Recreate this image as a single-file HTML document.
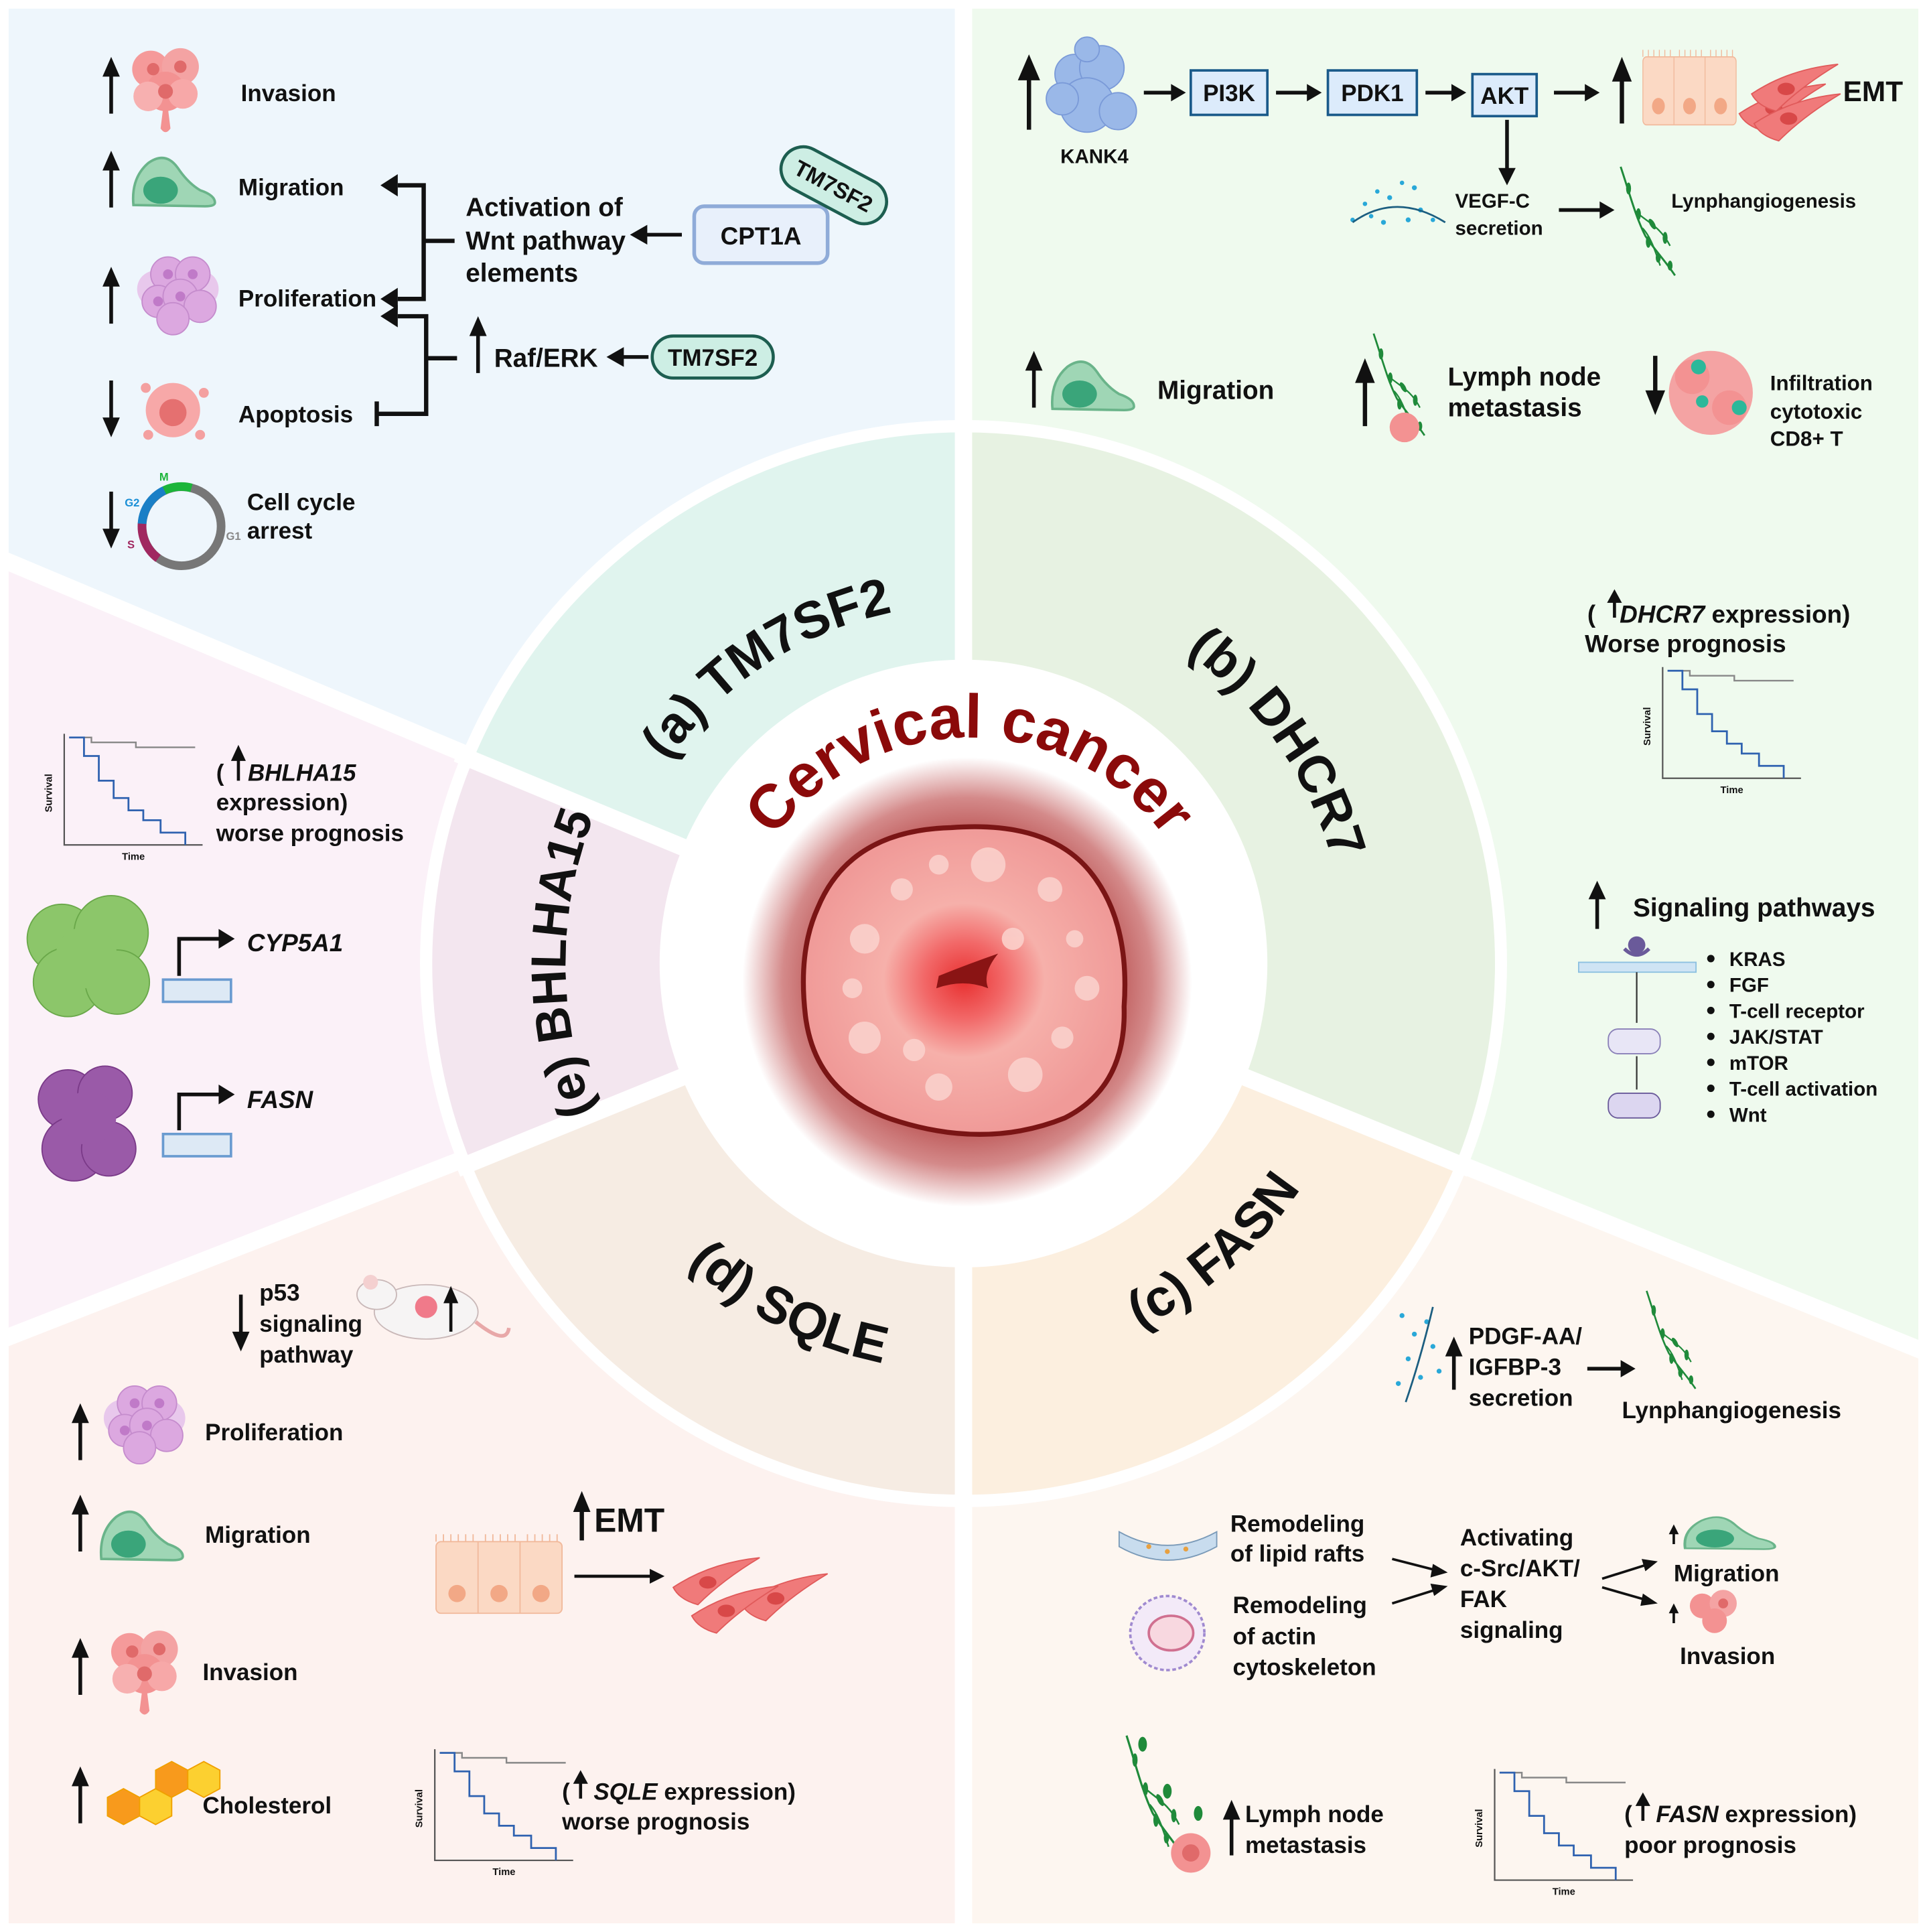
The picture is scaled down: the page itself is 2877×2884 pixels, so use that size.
<!DOCTYPE html>
<html><head><meta charset="utf-8"><style>
html,body{margin:0;padding:0;background:#fff}
svg{display:block}
text{font-family:"Liberation Sans",Arial,sans-serif;font-weight:bold;fill:#111}
</style></head><body>
<svg width="2877" height="2884" viewBox="0 0 1560 1564" preserveAspectRatio="none" xmlns="http://www.w3.org/2000/svg">
<defs>
<g id="up"><line x1="0" y1="0" x2="0" y2="-34" stroke="#111" stroke-width="3"/><polygon points="-7,-30 7,-30 0,-46" fill="#111"/></g>
<g id="dn"><line x1="0" y1="0" x2="0" y2="34" stroke="#111" stroke-width="3"/><polygon points="-7,30 7,30 0,46" fill="#111"/></g>
<g id="mig"><path d="M2,40 Q0,18 14,6 Q28,-4 38,10 Q46,22 56,28 Q68,32 68,38 Q68,41 60,41 Z" fill="#9fd6b5" stroke="#6ab48a" stroke-width="2"/><ellipse cx="24" cy="28" rx="14" ry="11" fill="#3aa57a"/></g>
<g id="pinkc"><circle cx="-12" cy="-8" r="15" fill="#f59a9a"/><circle cx="12" cy="-10" r="15" fill="#f4a3a3"/><circle cx="0" cy="10" r="16" fill="#f39292"/><circle cx="-14" cy="14" r="12" fill="#f7b0b0"/><circle cx="14" cy="12" r="12" fill="#f7a8a8"/><circle cx="-10" cy="-8" r="5" fill="#e06a6a"/><circle cx="12" cy="-10" r="5" fill="#e06a6a"/><circle cx="0" cy="10" r="6" fill="#e06a6a"/><path d="M-2,24 L2,24 L4,40 Q0,46 -4,40 Z" fill="#f39292"/></g>
<g id="purc"><circle cx="-18" cy="-4" r="15" fill="#e8c8ec"/><circle cx="18" cy="-4" r="15" fill="#e8c8ec"/><circle cx="-8" cy="-16" r="14" fill="#dca8e0" stroke="#c58ccd"/><circle cx="12" cy="-16" r="14" fill="#dca8e0" stroke="#c58ccd"/><circle cx="-16" cy="6" r="13" fill="#dca8e0" stroke="#c58ccd"/><circle cx="2" cy="2" r="14" fill="#dca8e0" stroke="#c58ccd"/><circle cx="18" cy="10" r="13" fill="#dca8e0" stroke="#c58ccd"/><circle cx="-4" cy="20" r="13" fill="#dca8e0" stroke="#c58ccd"/><circle cx="2" cy="2" r="4" fill="#c07ac8"/><circle cx="-8" cy="-16" r="4" fill="#c07ac8"/><circle cx="12" cy="-16" r="4" fill="#c07ac8"/><circle cx="-16" cy="6" r="4" fill="#c07ac8"/></g>
<g id="km"><path d="M0,0 V90 H112" fill="none" stroke="#555" stroke-width="1.2"/><path d="M4,3 H22 V7 H58 V11 H106" fill="none" stroke="#888" stroke-width="1.3"/><path d="M4,3 H16 V18 H28 V38 H40 V52 H52 V62 H64 V70 H78 V80 H98 V90" fill="none" stroke="#2f62b0" stroke-width="1.5"/><text x="56" y="102" font-size="8" font-weight="normal" text-anchor="middle" fill="#333">Time</text><text transform="translate(-10,48) rotate(-90)" font-size="8" font-weight="normal" text-anchor="middle" fill="#333">Survival</text></g>
<g id="lym"><path d="M0,0 C10,30 15,50 25,70 C35,85 45,95 55,110" fill="none" stroke="#1f8a3a" stroke-width="2"/><path d="M15,45 C25,55 40,60 50,80" fill="none" stroke="#1f8a3a" stroke-width="1.6"/><path d="M22,62 C30,70 35,85 40,100" fill="none" stroke="#1f8a3a" stroke-width="1.6"/><g fill="#1f8a3a"><ellipse cx="8" cy="22" rx="2.5" ry="6"/><ellipse cx="18" cy="48" rx="2.5" ry="6"/><ellipse cx="32" cy="58" rx="2.5" ry="6" transform="rotate(-30 32 58)"/><ellipse cx="45" cy="72" rx="2.5" ry="6"/><ellipse cx="28" cy="76" rx="2.5" ry="6"/><ellipse cx="38" cy="92" rx="2.5" ry="5"/><ellipse cx="50" cy="100" rx="2.5" ry="5"/></g></g>
<g id="epi"><rect x="0" y="0" width="102" height="58" rx="4" fill="#fbd9c4" stroke="#f1b99b"/><line x1="34" y1="0" x2="34" y2="58" stroke="#f1b99b"/><line x1="68" y1="0" x2="68" y2="58" stroke="#f1b99b"/><circle cx="17" cy="42" r="7" fill="#f2a886"/><circle cx="51" cy="42" r="7" fill="#f2a886"/><circle cx="85" cy="42" r="7" fill="#f2a886"/><path d="M0,0 V-6 M6,0 V-6 M12,0 V-6 M18,0 V-6 M24,0 V-6 M30,0 V-6 M40,0 V-6 M46,0 V-6 M52,0 V-6 M58,0 V-6 M64,0 V-6 M74,0 V-6 M80,0 V-6 M86,0 V-6 M92,0 V-6 M98,0 V-6" stroke="#f1b99b"/></g>
<g id="spin"><path d="M0,20 Q30,0 70,-4 Q40,14 20,34 Q5,30 0,20 Z" fill="#f07a7a" stroke="#e05a5a"/><ellipse cx="28" cy="16" rx="7" ry="5" fill="#d84848"/></g>
<radialGradient id="halo" cx="50%" cy="50%" r="50%"><stop offset="0" stop-color="#b24848"/><stop offset="0.65" stop-color="#bd5858"/><stop offset="0.82" stop-color="#d48a8a"/><stop offset="1" stop-color="#ffffff"/></radialGradient>
<radialGradient id="tum" cx="50%" cy="50%" r="50%"><stop offset="0" stop-color="#e83030"/><stop offset="0.25" stop-color="#f26868"/><stop offset="0.5" stop-color="#f6b0aa"/><stop offset="1" stop-color="#f09a98"/></radialGradient>
</defs>

<rect width="1560" height="1564" fill="#fff"/>
<polygon points="780,780 780,0 0,0 0,455" fill="#eef6fc"/>
<polygon points="780,780 780,0 1560,0 1560,1095" fill="#effaee"/>
<polygon points="780,780 1560,1095 1560,1564 780,1564" fill="#fdf6f0"/>
<polygon points="780,780 780,1564 0,1564 0,1085" fill="#fdf2ef"/>
<polygon points="780,780 0,1085 0,455" fill="#fbf1f8"/>
<g stroke="#fff" stroke-width="14"><line x1="780" y1="780" x2="780" y2="0"/><line x1="780" y1="780" x2="0" y2="452"/><line x1="780" y1="780" x2="0" y2="1085"/><line x1="780" y1="780" x2="780" y2="1564"/><line x1="780" y1="780" x2="1560" y2="1095"/></g>
<rect x="3" y="3" width="1554" height="1558" fill="none" stroke="#fff" stroke-width="8"/>

<circle cx="780" cy="780" r="440" fill="#fff"/>
<path d="M383,615 A430 430 0 0 1 780,350 L780,540 A240 240 0 0 0 558,688 Z" fill="#e0f4ee"/>
<path d="M780,350 A430 430 0 0 1 1179,941 L1003,870 A240 240 0 0 0 780,540 Z" fill="#e7f2e2"/>
<path d="M1179,941 A430 430 0 0 1 780,1210 L780,1020 A240 240 0 0 0 1003,870 Z" fill="#fcefdf"/>
<path d="M780,1210 A430 430 0 0 1 381,941 L557,870 A240 240 0 0 0 780,1020 Z" fill="#f6ece3"/>
<path d="M381,941 A430 430 0 0 1 383,615 L558,688 A240 240 0 0 0 557,870 Z" fill="#f3e6ef"/>
<g stroke="#fff" stroke-width="14"><line x1="780" y1="540" x2="780" y2="340"/><line x1="558" y1="688" x2="370" y2="610"/><line x1="557" y1="870" x2="370" y2="946"/><line x1="780" y1="1020" x2="780" y2="1220"/><line x1="1003" y1="870" x2="1190" y2="946"/></g>
<circle cx="780" cy="780" r="246" fill="#fff"/>

<circle cx="783" cy="795" r="182" fill="url(#halo)"/>
<path d="M662,735 Q688,672 770,670 Q848,664 882,705 Q915,745 910,815 Q912,880 862,905 Q800,930 728,908 Q660,888 652,822 Q646,770 662,735 Z" fill="url(#tum)" stroke="#7a1515" stroke-width="4"/>
<g fill="#fbd3ce" opacity="0.85"><circle cx="700" cy="760" r="12"/><circle cx="730" cy="720" r="9"/><circle cx="800" cy="700" r="14"/><circle cx="850" cy="720" r="10"/><circle cx="700" cy="840" r="13"/><circle cx="760" cy="880" r="11"/><circle cx="830" cy="870" r="14"/><circle cx="880" cy="800" r="10"/><circle cx="860" cy="840" r="9"/><circle cx="820" cy="760" r="9"/><circle cx="690" cy="800" r="8"/><circle cx="740" cy="850" r="9"/><circle cx="870" cy="760" r="7"/><circle cx="760" cy="700" r="8"/></g>
<path d="M760,790 Q785,780 808,772 Q795,788 800,800 Q780,792 758,800 Z" fill="#8a1414"/>
<path id="arcC" d="M590,792 A195 195 0 0 1 980,792" fill="none"/>
<text font-size="50" style="fill:#8b0a0a"><textPath href="#arcC" startOffset="50%" text-anchor="middle">Cervical cancer</textPath></text>

<path id="pa" d="M507.5,680.8 A290 290 0 0 1 810.3,491.6" fill="none"/>
<path id="pb" d="M860.2,480.6 A310 310 0 0 1 1088.8,807" fill="none"/>
<path id="pc" d="M785.7,1107.9 A328 328 0 0 0 1104,831.3" fill="none"/>
<path id="pd" d="M494.2,945 A330 330 0 0 0 814.5,1108.2" fill="none"/>
<path id="pe" d="M533.3,987 A322 322 0 0 1 533.3,573" fill="none"/>
<g font-size="42"><text><textPath href="#pa" startOffset="48%" text-anchor="middle">(a) TM7SF2</textPath></text>
<text><textPath href="#pb" startOffset="50%" text-anchor="middle">(b) DHCR7</textPath></text>
<text><textPath href="#pc" startOffset="50%" text-anchor="middle">(c) FASN</textPath></text>
<text><textPath href="#pd" startOffset="50%" text-anchor="middle">(d) SQLE</textPath></text>
<text font-size="40"><textPath href="#pe" startOffset="50%" text-anchor="middle">(e) BHLHA15</textPath></text></g>

<!-- panel a -->
<g font-size="19">
<use href="#up" x="90" y="92"/><use href="#pinkc" x="134" y="64"/><text x="195" y="82">Invasion</text>
<use href="#up" x="90" y="168"/><use href="#mig" x="106" y="126"/><text x="193" y="158">Migration</text>
<use href="#up" x="90" y="262"/><use href="#purc" x="144" y="238"/><text x="193" y="248">Proliferation</text>
<use href="#dn" x="90" y="308"/>
<g><circle cx="140" cy="332" r="22" fill="#f7a8a8"/><circle cx="140" cy="334" r="11" fill="#e57070"/><circle cx="118" cy="314" r="4" fill="#f4a0a0"/><circle cx="165" cy="318" r="4" fill="#f4a0a0"/><circle cx="120" cy="352" r="4" fill="#f4a0a0"/><circle cx="162" cy="352" r="4" fill="#f4a0a0"/></g>
<text x="193" y="342">Apoptosis</text>
<use href="#dn" x="90" y="398"/>
<circle cx="147" cy="426" r="32" fill="none" stroke="#777" stroke-width="7"/>
<path d="M133,397 A32 32 0 0 1 155,395" fill="none" stroke="#1cb53a" stroke-width="7"/>
<path d="M115,424 A32 32 0 0 1 133,397" fill="none" stroke="#1a7fc6" stroke-width="7"/>
<path d="M115,424 A32 32 0 0 0 128,452" fill="none" stroke="#a02860" stroke-width="7"/>
<text x="129" y="389" font-size="9" font-weight="normal" style="fill:#1cb53a">M</text>
<text x="101" y="410" font-size="9" font-weight="normal" style="fill:#1a8fd6">G2</text>
<text x="103" y="444" font-size="9" font-weight="normal" style="fill:#a02860">S</text>
<text x="183" y="437" font-size="9" font-weight="normal" style="fill:#888">G1</text>
<text x="200" y="413" font-size="19">Cell cycle</text><text x="200" y="436" font-size="19">arrest</text>
</g>
<g stroke="#111" stroke-width="3.5" fill="none"><path d="M322,150 H343 V242 H322"/><path d="M343,195 H368"/><path d="M322,256 H345 V335 H305"/><path d="M305,325 V345"/><path d="M345,290 H370"/></g>
<g fill="#111"><polygon points="308,150 322,141 322,159"/><polygon points="308,242 322,233 322,251"/><polygon points="308,256 322,247 322,265"/></g>
<g font-size="21"><text x="377" y="175">Activation of</text><text x="377" y="202">Wnt pathway</text><text x="377" y="228">elements</text></g>
<line x1="552" y1="190" x2="522" y2="190" stroke="#111" stroke-width="3"/><polygon points="510,190 524,182 524,198" fill="#111"/>
<rect x="562" y="167" width="108" height="46" rx="8" fill="#e8f0fb" stroke="#8fabd8" stroke-width="3"/><text x="616" y="198" font-size="20" text-anchor="middle">CPT1A</text>
<g transform="translate(675,150) rotate(28)"><rect x="-46" y="-18" width="92" height="36" rx="18" fill="#cdeee4" stroke="#1d5e50" stroke-width="2.5"/><text x="0" y="7" font-size="18" text-anchor="middle">TM7SF2</text></g>
<use href="#up" x="387" y="302"/><text x="400" y="297" font-size="21">Raf/ERK</text>
<line x1="525" y1="289" x2="503" y2="289" stroke="#111" stroke-width="3"/><polygon points="491,289 505,281 505,297" fill="#111"/>
<rect x="528" y="272" width="98" height="34" rx="17" fill="#cdeee4" stroke="#1d5e50" stroke-width="2.5"/><text x="577" y="296" font-size="19" text-anchor="middle">TM7SF2</text>

<!-- panel b -->
<line x1="833" y1="105" x2="833" y2="60" stroke="#111" stroke-width="3.5"/><polygon points="824,65 842,65 833,44" fill="#111"/>
<g fill="#9ab8e8" stroke="#7a9ad8"><circle cx="870" cy="60" r="16"/><circle cx="892" cy="55" r="18"/><circle cx="880" cy="85" r="22"/><circle cx="905" cy="90" r="15"/><circle cx="860" cy="80" r="13"/><circle cx="880" cy="40" r="10"/></g>
<text x="886" y="132" font-size="16" text-anchor="middle">KANK4</text>
<g stroke="#111" stroke-width="3"><line x1="926" y1="75" x2="950" y2="75"/><line x1="1033" y1="75" x2="1060" y2="75"/><line x1="1154" y1="75" x2="1177" y2="75"/><line x1="1258" y1="75" x2="1285" y2="75"/><line x1="1220" y1="97" x2="1220" y2="138"/><line x1="1262" y1="170" x2="1297" y2="170"/></g>
<g fill="#111"><polygon points="960,75 948,68 948,82"/><polygon points="1070,75 1058,68 1058,82"/><polygon points="1187,75 1175,68 1175,82"/><polygon points="1295,75 1283,68 1283,82"/><polygon points="1220,150 1213,136 1227,136"/><polygon points="1307,170 1295,163 1295,177"/></g>
<g fill="#dcebfb" stroke="#1a5a8a" stroke-width="2"><rect x="964" y="57" width="62" height="36"/><rect x="1075" y="57" width="72" height="36"/><rect x="1192" y="60" width="52" height="34"/></g>
<g font-size="19" text-anchor="middle"><text x="995" y="82">PI3K</text><text x="1111" y="82">PDK1</text><text x="1218" y="84">AKT</text></g>
<line x1="1313" y1="100" x2="1313" y2="60" stroke="#111" stroke-width="3.5"/><polygon points="1305,66 1321,66 1313,46" fill="#111"/>
<g transform="translate(1330,46) scale(0.74,0.95)"><use href="#epi"/></g>
<use href="#spin" x="1408" y="72"/><use href="#spin" x="1418" y="56"/><use href="#spin" x="1420" y="80"/>
<text x="1492" y="82" font-size="23">EMT</text>
<g fill="#29a8d8"><circle cx="1095" cy="178" r="1.8"/><circle cx="1105" cy="165" r="1.8"/><circle cx="1115" cy="155" r="1.8"/><circle cx="1125" cy="160" r="2"/><circle cx="1135" cy="148" r="1.8"/><circle cx="1145" cy="152" r="2"/><circle cx="1150" cy="170" r="2"/><circle cx="1120" cy="180" r="2"/><circle cx="1160" cy="178" r="1.8"/><circle cx="1110" cy="175" r="1.8"/><circle cx="1140" cy="178" r="2"/></g>
<path d="M1095,180 Q1130,155 1170,180" fill="none" stroke="#1c5e80" stroke-width="1.5"/>
<g font-size="16"><text x="1178" y="168">VEGF-C</text><text x="1178" y="190">secretion</text><text x="1353" y="168">Lynphangiogenesis</text></g>
<g transform="translate(1312,135) scale(0.8)"><use href="#lym"/></g>
<use href="#up" x="837" y="330"/><use href="#mig" x="850" y="291"/><text x="937" y="323" font-size="21">Migration</text>
<line x1="1105" y1="345" x2="1105" y2="305" stroke="#111" stroke-width="3.5"/><polygon points="1097,310 1113,310 1105,290" fill="#111"/>
<g transform="translate(1112,270) scale(0.75)"><use href="#lym"/></g><circle cx="1137" cy="346" r="12" fill="#f39292"/>
<g font-size="21"><text x="1172" y="312">Lymph node</text><text x="1172" y="337">metastasis</text></g>
<line x1="1340" y1="288" x2="1340" y2="320" stroke="#111" stroke-width="3.5"/><polygon points="1332,316 1348,316 1340,336" fill="#111"/>
<g><circle cx="1385" cy="318" r="34" fill="#f4a3a3"/><circle cx="1370" cy="305" r="14" fill="#f39292"/><circle cx="1400" cy="330" r="14" fill="#f39292"/><circle cx="1375" cy="297" r="6" fill="#2cb89a"/><circle cx="1378" cy="325" r="5" fill="#2cb89a"/><circle cx="1408" cy="330" r="6" fill="#2cb89a"/></g>
<g font-size="17"><text x="1433" y="316">Infiltration</text><text x="1433" y="339">cytotoxic</text><text x="1433" y="361">CD8+ T</text></g>
<text x="1285" y="504" font-size="20">( <tspan font-style="italic" dx="14">DHCR7</tspan> expression)</text>
<line x1="1307" y1="500" x2="1307" y2="486" stroke="#111" stroke-width="2.5"/><polygon points="1301,488 1313,488 1307,477" fill="#111"/>
<text x="1283" y="528" font-size="20">Worse prognosis</text>
<use href="#km" x="1346" y="540"/>
<line x1="1293" y1="752" x2="1293" y2="725" stroke="#111" stroke-width="3"/><polygon points="1286,728 1300,728 1293,713" fill="#111"/>
<text x="1322" y="742" font-size="21">Signaling pathways</text>
<rect x="1278" y="779" width="95" height="8" fill="#cfe4f4" stroke="#8cc0e0"/>
<circle cx="1325" cy="765" r="7" fill="#6a5a9a"/><path d="M1315,768 Q1325,778 1335,768" fill="none" stroke="#6a5a9a" stroke-width="3"/>
<line x1="1325" y1="787" x2="1325" y2="828" stroke="#333" stroke-width="1.2"/><line x1="1325" y1="855" x2="1325" y2="882" stroke="#333" stroke-width="1.2"/>
<rect x="1302" y="833" width="42" height="20" rx="8" fill="#e8e6f6" stroke="#8a80b8"/><rect x="1302" y="885" width="42" height="20" rx="8" fill="#dcd6f0" stroke="#6a5a9a"/>
<g font-size="16"><text x="1400" y="782">KRAS</text><text x="1400" y="803">FGF</text><text x="1400" y="824">T-cell receptor</text><text x="1400" y="845">JAK/STAT</text><text x="1400" y="866">mTOR</text><text x="1400" y="887">T-cell activation</text><text x="1400" y="908">Wnt</text></g>
<g fill="#111"><circle cx="1385" cy="776" r="3"/><circle cx="1385" cy="797" r="3"/><circle cx="1385" cy="818" r="3"/><circle cx="1385" cy="839" r="3"/><circle cx="1385" cy="860" r="3"/><circle cx="1385" cy="881" r="3"/><circle cx="1385" cy="902" r="3"/></g>

<!-- panel c -->
<g fill="#29a8d8"><circle cx="1135" cy="1065" r="2"/><circle cx="1145" cy="1080" r="2"/><circle cx="1140" cy="1100" r="2"/><circle cx="1155" cy="1070" r="2"/><circle cx="1160" cy="1090" r="2"/><circle cx="1150" cy="1115" r="2"/><circle cx="1165" cy="1110" r="2"/><circle cx="1132" cy="1120" r="2"/></g>
<path d="M1160,1058 Q1150,1100 1138,1135" fill="none" stroke="#1c5e80" stroke-width="1.5"/>
<line x1="1177" y1="1125" x2="1177" y2="1095" stroke="#111" stroke-width="3"/><polygon points="1170,1098 1184,1098 1177,1082" fill="#111"/>
<g font-size="19"><text x="1189" y="1088">PDGF-AA/</text><text x="1189" y="1113">IGFBP-3</text><text x="1189" y="1138">secretion</text><text x="1313" y="1148">Lynphangiogenesis</text></g>
<line x1="1285" y1="1108" x2="1313" y2="1108" stroke="#111" stroke-width="3"/><polygon points="1324,1108 1312,1101 1312,1115" fill="#111"/>
<g transform="translate(1333,1045) scale(0.72)"><use href="#lym"/></g>
<path d="M906,1240 Q945,1262 985,1240 L985,1252 Q945,1274 906,1252 Z" fill="#c8dcee" stroke="#7a9ab8"/>
<g fill="#e8a040"><circle cx="930" cy="1252" r="2"/><circle cx="945" cy="1256" r="2"/><circle cx="960" cy="1254" r="2"/></g>
<g font-size="19"><text x="996" y="1240">Remodeling</text><text x="996" y="1264">of  lipid rafts</text><text x="998" y="1306">Remodeling</text><text x="998" y="1331">of actin</text><text x="998" y="1356">cytoskeleton</text>
<text x="1182" y="1251">Activating</text><text x="1182" y="1276">c-Src/AKT/</text><text x="1182" y="1301">FAK</text><text x="1182" y="1326">signaling</text>
<text x="1355" y="1280">Migration</text><text x="1360" y="1347">Invasion</text></g>
<circle cx="945" cy="1322" r="30" fill="#f3eaf8" stroke="#a08ad0" stroke-width="2" stroke-dasharray="3 2"/><ellipse cx="948" cy="1322" rx="18" ry="14" fill="#f8d8e0" stroke="#d07090" stroke-width="2"/>
<g stroke="#111" stroke-width="2"><line x1="1127" y1="1262" x2="1162" y2="1271"/><line x1="1127" y1="1298" x2="1162" y2="1287"/><line x1="1297" y1="1278" x2="1332" y2="1267"/><line x1="1297" y1="1285" x2="1332" y2="1295"/></g>
<g fill="#111"><polygon points="1172,1273 1160,1266 1158,1277"/><polygon points="1172,1284 1158,1282 1161,1292"/><polygon points="1342,1264 1329,1262 1332,1272"/><polygon points="1342,1298 1330,1290 1328,1300"/></g>
<line x1="1355" y1="1250" x2="1355" y2="1240" stroke="#111" stroke-width="2"/><polygon points="1351,1242 1359,1242 1355,1234" fill="#111"/>
<g transform="translate(1362,1227) scale(1.1,0.66)"><use href="#mig"/></g>
<line x1="1355" y1="1314" x2="1355" y2="1304" stroke="#111" stroke-width="2"/><polygon points="1351,1306 1359,1306 1355,1298" fill="#111"/>
<g><circle cx="1378" cy="1300" r="10" fill="#f39292"/><circle cx="1395" cy="1298" r="11" fill="#f4a3a3"/><circle cx="1388" cy="1312" r="10" fill="#f39292"/><circle cx="1395" cy="1298" r="4" fill="#e06a6a"/></g>
<g transform="translate(912,1405) scale(0.85,0.9)"><use href="#lym"/></g>
<g fill="#1f8a3a"><ellipse cx="925" cy="1412" rx="3.5" ry="6"/><ellipse cx="945" cy="1450" rx="3.5" ry="6"/><ellipse cx="970" cy="1468" rx="3.5" ry="6"/></g>
<circle cx="964" cy="1500" r="16" fill="#f39292"/><circle cx="964" cy="1500" r="7" fill="#e06a6a"/>
<line x1="997" y1="1502" x2="997" y2="1470" stroke="#111" stroke-width="3"/><polygon points="990,1473 1004,1473 997,1457" fill="#111"/>
<g font-size="19"><text x="1008" y="1475">Lymph node</text><text x="1008" y="1500">metastasis</text></g>
<use href="#km" x="1210" y="1432"/>
<text x="1315" y="1475" font-size="19">( <tspan font-style="italic" dx="14">FASN</tspan> expression)</text>
<line x1="1330" y1="1474" x2="1330" y2="1460" stroke="#111" stroke-width="2.5"/><polygon points="1324,1462 1336,1462 1330,1451" fill="#111"/>
<text x="1315" y="1500" font-size="19">poor prognosis</text>

<!-- panel d -->
<use href="#dn" x="195" y="1048"/>
<g font-size="19"><text x="210" y="1053">p53</text><text x="210" y="1078">signaling</text><text x="210" y="1103">pathway</text></g>
<ellipse cx="345" cy="1062" rx="42" ry="22" fill="#f6f4f4" stroke="#c9b8b8"/><ellipse cx="305" cy="1048" rx="16" ry="12" fill="#f6f4f4" stroke="#c9b8b8"/><circle cx="300" cy="1038" r="6" fill="#f4d0d0"/>
<path d="M385,1070 Q410,1090 412,1075" fill="none" stroke="#e8a8a8" stroke-width="3"/>
<circle cx="345" cy="1058" r="9" fill="#f07a8a"/>
<line x1="365" y1="1078" x2="365" y2="1052" stroke="#111" stroke-width="2.5"/><polygon points="359,1055 371,1055 365,1041" fill="#111"/>
<use href="#up" x="65" y="1182"/><use href="#purc" x="117" y="1152"/><text x="166" y="1166" font-size="19">Proliferation</text>
<use href="#up" x="65" y="1256"/><use href="#mig" x="80" y="1222"/><text x="166" y="1249" font-size="19">Migration</text>
<use href="#up" x="65" y="1372"/><use href="#pinkc" x="117" y="1345"/><text x="164" y="1360" font-size="19">Invasion</text>
<use href="#up" x="65" y="1476"/>
<g stroke="#f0a000" stroke-width="1"><polygon points="100,1448 113,1455 113,1470 100,1477 87,1470 87,1455" fill="#f89a1c"/><polygon points="126,1448 139,1455 139,1470 126,1477 113,1470 113,1455" fill="#fcd030"/><polygon points="139,1426 152,1433 152,1448 139,1455 126,1448 126,1433" fill="#f89a1c"/><polygon points="165,1426 178,1433 178,1448 165,1455 152,1448 152,1433" fill="#fcd030"/></g>
<text x="164" y="1468" font-size="19">Cholesterol</text>
<line x1="471" y1="1247" x2="471" y2="1220" stroke="#111" stroke-width="3.5"/><polygon points="464,1224 478,1224 471,1207" fill="#111"/>
<text x="481" y="1240" font-size="27">EMT</text>
<use href="#epi" x="353" y="1248"/>
<line x1="465" y1="1276" x2="527" y2="1276" stroke="#111" stroke-width="2.5"/><polygon points="538,1276 526,1270 526,1282" fill="#111"/>
<use href="#spin" x="545" y="1265"/><use href="#spin" x="600" y="1278"/><use href="#spin" x="560" y="1288"/>
<use href="#km" x="352" y="1416"/>
<text x="455" y="1457" font-size="19">( <tspan font-style="italic" dx="14">SQLE</tspan> expression)</text>
<line x1="470" y1="1456" x2="470" y2="1442" stroke="#111" stroke-width="2.5"/><polygon points="464,1444 476,1444 470,1433" fill="#111"/>
<text x="455" y="1481" font-size="19">worse prognosis</text>

<!-- panel e -->
<use href="#km" x="52" y="594"/>
<text x="175" y="632" font-size="19">( <tspan font-style="italic" dx="14">BHLHA15</tspan></text>
<line x1="193" y1="632" x2="193" y2="614" stroke="#111" stroke-width="2.5"/><polygon points="187,616 199,616 193,603" fill="#111"/>
<g font-size="19"><text x="175" y="656">expression)</text><text x="175" y="681">worse prognosis</text></g>
<g fill="#8cc66a" stroke="#6aa84a"><circle cx="50" cy="760" r="28"/><circle cx="90" cy="755" r="30"/><circle cx="55" cy="795" r="28"/><circle cx="95" cy="795" r="26"/><circle cx="70" cy="775" r="25" stroke="none"/></g>
<path d="M145,790 V760 H178" fill="none" stroke="#111" stroke-width="3"/><polygon points="190,760 177,752 177,768" fill="#111"/>
<rect x="132" y="793" width="55" height="18" fill="#dde9f5" stroke="#6a9bd0" stroke-width="2"/>
<text x="200" y="770" font-size="20" font-style="italic">CYP5A1</text>
<g fill="#9a5aa8" stroke="#7a3a88"><circle cx="55" cy="890" r="24"/><circle cx="85" cy="885" r="22"/><circle cx="60" cy="930" r="26"/><circle cx="88" cy="930" r="22"/><circle cx="72" cy="905" r="22" stroke="none"/></g>
<path d="M145,915 V886 H178" fill="none" stroke="#111" stroke-width="3"/><polygon points="190,886 177,878 177,894" fill="#111"/>
<rect x="132" y="918" width="55" height="18" fill="#dde9f5" stroke="#6a9bd0" stroke-width="2"/>
<text x="200" y="897" font-size="20" font-style="italic">FASN</text>
</svg>
</body></html>
